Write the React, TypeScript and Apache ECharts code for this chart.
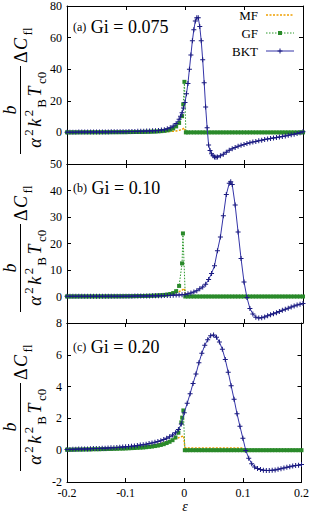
import React, { useEffect, useRef } from "react";
import * as echarts from "echarts";

// ---------- data ----------
const epsGrid = [
  -0.2, -0.195, -0.19, -0.185, -0.18, -0.175, -0.17, -0.165, -0.16, -0.155,
  -0.15, -0.145, -0.14, -0.135, -0.13, -0.125, -0.12, -0.115, -0.11, -0.105,
  -0.1, -0.095, -0.09, -0.085, -0.08, -0.075, -0.07, -0.065, -0.06, -0.055,
  -0.05, -0.045, -0.04, -0.035, -0.03, -0.025, -0.02, -0.015, -0.01, -0.005,
  0,
  0.005, 0.01, 0.015, 0.02, 0.025, 0.03, 0.035, 0.04, 0.045, 0.05,
  0.055, 0.06, 0.065, 0.07, 0.075, 0.08, 0.085, 0.09, 0.095, 0.1,
  0.105, 0.11, 0.115, 0.12, 0.125, 0.13, 0.135, 0.14, 0.145, 0.15,
  0.155, 0.16, 0.165, 0.17, 0.175, 0.18, 0.185, 0.19, 0.195, 0.2,
];

// (a) Gi = 0.075
const bktA = [
  0.15, 0.15, 0.16, 0.17, 0.18, 0.19, 0.2, 0.21, 0.22, 0.23, 0.25, 0.26, 0.28, 0.3, 0.32, 0.34, 0.36, 0.39, 0.42, 0.45, 0.48,
  0.52, 0.56, 0.6, 0.65, 0.7, 0.76, 0.82, 0.9, 1.0, 1.1, 1.25, 1.45, 1.75, 2.3, 3.0, 4.0, 5.6, 8.4, 12.5,
  19,
  31, 49, 65, 72.5, 67, 46, 16, -8, -13.5, -15.5, -15.6, -14.8, -13.8, -12.5, -11.3, -10.3, -9.5, -8.8, -8.2, -7.6,
  -7.1, -6.6, -6.1, -5.7, -5.3, -4.9, -4.5, -4.2, -3.8, -3.5, -3.2, -2.9, -2.55, -2.2, -1.85, -1.5, -1.1, -0.7, -0.2, 0.4,
];
const bktAExtra: [number, number][] = [
  [-0.0075, 10.2], [-0.0025, 15.5], [0.0025, 24.5], [0.0075, 40], [0.0125, 58], [0.0175, 70.5],
  [0.0225, 72.5], [0.0275, 58], [0.0325, 31.5], [0.0375, 3], [0.0425, -11.5], [0.0475, -14.8], [0.0525, -15.7],
];
const gfALeft = [
  0.05, 0.05, 0.05, 0.06, 0.06, 0.06, 0.07, 0.07, 0.08, 0.08, 0.09, 0.1, 0.1, 0.11, 0.12, 0.13, 0.14, 0.15, 0.16, 0.17, 0.18,
  0.2, 0.22, 0.24, 0.26, 0.29, 0.32, 0.36, 0.41, 0.47, 0.55, 0.65, 0.8, 1.0, 1.3, 1.75, 2.5, 3.8, 6.0, 10.3,
];
const gfASpike: [number, number][] = [[-0.003, 17.8], [-0.001, 32], [0.0015, 0]];
const gfARight = [
  0, 0, 0, 0, 0, 0, 0, 0, 0, 0, 0, 0, 0, 0, 0, 0, 0, 0, 0, 0,
  0, 0, 0, 0, 0, 0, 0, 0, 0, 0, 0, 0, 0, 0, 0, 0, 0, 0, 0, 0,
];
const mfALeft = [
  0.05, 0.05, 0.05, 0.06, 0.06, 0.06, 0.07, 0.07, 0.07, 0.08, 0.08, 0.09, 0.09, 0.1, 0.1, 0.11, 0.12, 0.12, 0.13, 0.14, 0.15,
  0.16, 0.17, 0.18, 0.19, 0.2, 0.22, 0.24, 0.26, 0.28, 0.31, 0.34, 0.38, 0.43, 0.5, 0.6, 0.75, 0.95, 1.3, 1.9,
];
const mfASpike: [number, number][] = [[-0.001, 2.8], [0.001, 0.3]];
const mfARight = [
  0.3, 0.3, 0.3, 0.3, 0.3, 0.3, 0.3, 0.3, 0.3, 0.3, 0.3, 0.3, 0.3, 0.3, 0.3, 0.3, 0.3, 0.3, 0.3, 0.3,
  0, 0, 0, 0, 0, 0, 0, 0, 0, 0, 0, 0, 0, 0, 0, 0, 0, 0, 0, 0,
];

// (b) Gi = 0.10
const bktB = [
  0.05, 0.05, 0.05, 0.05, 0.05, 0.05, 0.05, 0.05, 0.05, 0.06, 0.06, 0.06, 0.07, 0.07, 0.08, 0.08, 0.09, 0.1, 0.1, 0.11, 0.12,
  0.13, 0.14, 0.15, 0.16, 0.17, 0.19, 0.2, 0.22, 0.24, 0.26, 0.28, 0.31, 0.34, 0.38, 0.42, 0.47, 0.53, 0.6, 0.68,
  0.78,
  1.0, 1.3, 1.7, 2.2, 2.9, 3.6, 4.6, 6.4, 8.7, 11.6, 17.3, 22.5, 30.5, 38.5, 42.7, 42.3, 34.5, 24.3, 14.3, 5.5,
  -0.4, -4.5, -6.6, -7.8, -8.1, -8.0, -7.7, -7.3, -6.9, -6.5, -6.1, -5.7, -5.2, -4.8, -4.4, -4.0, -3.6, -3.2, -2.9, -2.6,
];
const bktBExtra: [number, number][] = [[0.0775, 43.3]];
const gfBLeft = [
  0.03, 0.03, 0.03, 0.03, 0.04, 0.04, 0.04, 0.04, 0.05, 0.05, 0.05, 0.06, 0.06, 0.06, 0.07, 0.07, 0.08, 0.08, 0.09, 0.1, 0.11,
  0.12, 0.13, 0.15, 0.16, 0.18, 0.2, 0.23, 0.26, 0.3, 0.35, 0.42, 0.5, 0.6, 0.75, 0.95, 1.3, 2.0, 4.0, 12.5,
];
const gfBSpike: [number, number][] = [[-0.0035, 23.8], [0.0005, 0]];
const gfBRight = [
  0, 0, 0, 0, 0, 0, 0, 0, 0, 0, 0, 0, 0, 0, 0, 0, 0, 0, 0, 0,
  0, 0, 0, 0, 0, 0, 0, 0, 0, 0, 0, 0, 0, 0, 0, 0, 0, 0, 0, 0,
];
const mfBLeft = [
  0.08, 0.08, 0.09, 0.09, 0.1, 0.1, 0.11, 0.11, 0.12, 0.12, 0.13, 0.14, 0.14, 0.15, 0.16, 0.17, 0.18, 0.19, 0.2, 0.22, 0.23,
  0.25, 0.27, 0.29, 0.31, 0.34, 0.37, 0.4, 0.44, 0.49, 0.55, 0.62, 0.7, 0.8, 0.92, 1.05, 1.25, 1.5, 1.85, 2.4,
];
const mfBSpike: [number, number][] = [[-0.001, 3.0], [0.001, 0.2]];
const mfBRight = [
  0.2, 0.2, 0.2, 0.2, 0.2, 0.2, 0.2, 0.2, 0.2, 0.2, 0.2, 0.2, 0.2, 0.2, 0.2, 0.2, 0.2, 0.2, 0.2, 0.2,
  0, 0, 0, 0, 0, 0, 0, 0, 0, 0, 0, 0, 0, 0, 0, 0, 0, 0, 0, 0,
];

// (c) Gi = 0.20
const bktC = [
  0.05, 0.05, 0.06, 0.06, 0.07, 0.07, 0.08, 0.08, 0.09, 0.1, 0.1, 0.11, 0.12, 0.13, 0.14, 0.15, 0.16, 0.17, 0.18, 0.2, 0.21,
  0.23, 0.25, 0.27, 0.29, 0.32, 0.35, 0.38, 0.42, 0.46, 0.5, 0.55, 0.6, 0.67, 0.75, 0.84, 0.95, 1.1, 1.3, 1.65,
  2.35,
  2.95, 3.55, 4.2, 4.8, 5.5, 6.1, 6.6, 6.95, 7.2, 7.25, 7.1, 6.8, 6.35, 5.7, 4.9, 4.05, 3.2, 2.3, 1.5, 0.75,
  -0.02, -0.5, -0.85, -1.05, -1.15, -1.22, -1.26, -1.27, -1.27, -1.26, -1.24, -1.2, -1.16, -1.12, -1.08, -1.04, -1.0, -0.97, -0.94, -0.9,
];
const bktCExtra: [number, number][] = [];
const gfCLeft = [
  0.03, 0.03, 0.03, 0.04, 0.04, 0.04, 0.05, 0.05, 0.05, 0.06, 0.06, 0.06, 0.07, 0.07, 0.08, 0.08, 0.09, 0.09, 0.1, 0.1, 0.11,
  0.12, 0.13, 0.14, 0.15, 0.16, 0.17, 0.19, 0.21, 0.23, 0.26, 0.29, 0.33, 0.38, 0.45, 0.53, 0.63, 0.8, 1.1, 1.75,
];
const gfCSpike: [number, number][] = [[-0.0035, 2.05], [-0.0015, 2.5], [0.001, 0]];
const gfCRight = [
  0, 0, 0, 0, 0, 0, 0, 0, 0, 0, 0, 0, 0, 0, 0, 0, 0, 0, 0, 0,
  0, 0, 0, 0, 0, 0, 0, 0, 0, 0, 0, 0, 0, 0, 0, 0, 0, 0, 0, 0,
];
const mfCLeft = [
  0.05, 0.05, 0.06, 0.06, 0.06, 0.07, 0.07, 0.07, 0.08, 0.08, 0.08, 0.09, 0.09, 0.1, 0.1, 0.11, 0.12, 0.12, 0.13, 0.14, 0.15,
  0.16, 0.17, 0.18, 0.2, 0.21, 0.23, 0.25, 0.27, 0.3, 0.33, 0.37, 0.42, 0.47, 0.52, 0.58, 0.65, 0.72, 0.78, 0.85,
];
const mfCSpike: [number, number][] = [[-0.001, 0.9], [0.001, 0.17]];
const mfCRight = [
  0.14, 0.14, 0.14, 0.14, 0.14, 0.14, 0.14, 0.14, 0.14, 0.14, 0.14, 0.14, 0.14, 0.14, 0.14, 0.14, 0.14, 0.14, 0.14, 0.14,
  0, 0, 0, 0, 0, 0, 0, 0, 0, 0, 0, 0, 0, 0, 0, 0, 0, 0, 0, 0,
];

const panelTags = ["(a)", "(b)", "(c)"];
const panelGi = ["0.075", "0.10", "0.20"];
const yMins = [-20, -10, -2];
const yMaxs = [80, 50, 8];
const ySteps = [20, 10, 2];
const xTicks = { min: -0.2, max: 0.2, step: 0.1 };
const seriesNames = ["MF", "GF", "BKT"];

// ---------- helpers ----------
const epsLeft = epsGrid.slice(0, 40);
const epsRight = epsGrid.slice(41);
const zip = (xs: number[], ys: number[]) => xs.map((x, i) => [x, ys[i]]);
const sortX = (pts: number[][]) => pts.slice().sort((p, q) => p[0] - q[0]);

const panelData = [
  {
    bkt: sortX([...zip(epsGrid, bktA), ...bktAExtra]),
    gf: [...zip(epsLeft, gfALeft), ...gfASpike, ...zip(epsRight, gfARight)],
    mf: [...zip(epsLeft, mfALeft), ...mfASpike, ...zip(epsRight, mfARight)],
  },
  {
    bkt: sortX([...zip(epsGrid, bktB), ...bktBExtra]),
    gf: [...zip(epsLeft, gfBLeft), ...gfBSpike, ...zip(epsRight, gfBRight)],
    mf: [...zip(epsLeft, mfBLeft), ...mfBSpike, ...zip(epsRight, mfBRight)],
  },
  {
    bkt: sortX([...zip(epsGrid, bktC), ...bktCExtra]),
    gf: [...zip(epsLeft, gfCLeft), ...gfCSpike, ...zip(epsRight, gfCRight)],
    mf: [...zip(epsLeft, mfCLeft), ...mfCSpike, ...zip(epsRight, mfCRight)],
  },
];

// ---------- style ----------
const FONT = "Liberation Serif";
const C_MF = "#f0a000";
const C_GF = "#2e9a2e";
const C_GF_MARK = "#2a8a2a";
const C_BKT = "#3434a8";
const C_BKT_MARK = "#1a1a80";
const PLUS = "path://M2,0H3V2H5V3H3V5H2V3H0V2H2Z";

const gridTops = [6, 164, 323];
const gridHeights = [158, 159, 159];

function buildOption() {
  const grid: any[] = [];
  const xAxis: any[] = [];
  const yAxis: any[] = [];
  const series: any[] = [];
  const graphic: any[] = [];

  const axisLine = { onZero: false, lineStyle: { color: "#000", width: 1 } };
  const axisTick = { inside: true, length: 4, lineStyle: { color: "#000", width: 1 } };

  for (let k = 0; k < 3; k++) {
    grid.push({ left: 67, right: 9, top: gridTops[k], height: gridHeights[k] });
    const xBase = {
      type: "value",
      gridIndex: k,
      min: xTicks.min,
      max: xTicks.max,
      interval: xTicks.step,
      axisLine,
      axisTick,
      splitLine: { show: false },
    };
    xAxis.push({
      ...xBase,
      position: "bottom",
      axisLabel: {
        show: k === 2,
        fontFamily: FONT,
        fontSize: 12,
        lineHeight: 12,
        color: "#000",
        margin: 5,
        formatter: (v: number) => {
          const r = Math.round(v * 10) / 10;
          return r === 0 ? "0" : String(r);
        },
      },
    });
    xAxis.push({ ...xBase, position: "top", axisLabel: { show: false } });

    const yBase = {
      type: "value",
      gridIndex: k,
      min: yMins[k],
      max: yMaxs[k],
      interval: ySteps[k],
      axisLine,
      axisTick,
      splitLine: { show: false },
    };
    yAxis.push({
      ...yBase,
      position: "left",
      axisLabel: {
        fontFamily: FONT,
        fontSize: 12,
        lineHeight: 12,
        color: "#000",
        margin: 5,
        formatter: (v: number) => (k < 2 && v === yMins[k] ? "" : String(v)),
      },
    });
    yAxis.push({ ...yBase, position: "right", axisLabel: { show: false } });

    const d = panelData[k];
    series.push({
      name: seriesNames[0],
      type: "line",
      xAxisIndex: 2 * k,
      yAxisIndex: 2 * k,
      data: d.mf,
      symbol: "none",
      lineStyle: { color: C_MF, width: 1.5, type: [2, 1.5] },
      z: 2,
    });
    series.push({
      name: seriesNames[1],
      type: "line",
      xAxisIndex: 2 * k,
      yAxisIndex: 2 * k,
      data: d.gf,
      symbol: "rect",
      symbolSize: 4,
      showAllSymbol: true,
      itemStyle: { color: C_GF_MARK },
      lineStyle: { color: C_GF, width: 1, type: [1.5, 1.5] },
      z: 3,
    });
    series.push({
      name: seriesNames[2],
      type: "line",
      xAxisIndex: 2 * k,
      yAxisIndex: 2 * k,
      data: d.bkt,
      symbol: PLUS,
      symbolSize: 5,
      showAllSymbol: true,
      itemStyle: { color: C_BKT_MARK },
      lineStyle: { color: C_BKT, width: 1 },
      z: 4,
    });

    // panel label
    const labelY = [27, 188, 347][k];
    graphic.push({
      type: "text",
      x: 73,
      y: labelY,
      style: {
        text: `{s|${panelTags[k]}}{g| Gi = ${panelGi[k]}}`,
        verticalAlign: "middle",
        textVerticalAlign: "middle",
        fill: "#000",
        rich: {
          s: { fontFamily: FONT, fontSize: 12, color: "#000" },
          g: { fontFamily: FONT, fontSize: 18, color: "#000" },
        },
      },
    });

    // y title (rotated fraction)
    const ital = { fontFamily: FONT, fontStyle: "italic", fontSize: 18, lineHeight: 26, verticalAlign: "middle", color: "#000", padding: [0, 1.5] };
    const rom = { fontFamily: FONT, fontSize: 18, lineHeight: 26, verticalAlign: "middle", color: "#000" };
    const sup = { fontFamily: FONT, fontSize: 13, lineHeight: 13, verticalAlign: "top", color: "#000", padding: [0, 1] };
    const sub = { fontFamily: FONT, fontSize: 13, lineHeight: 13, verticalAlign: "bottom", color: "#000", padding: [0, 1] };
    graphic.push({
      type: "group",
      x: 20.5,
      y: gridTops[k] + 104,
      rotation: Math.PI / 2,
      children: [
        {
          type: "text",
          x: 0,
          y: -2,
          style: {
            text: "b",
            font: `italic 18px "${FONT}"`,
            fill: "#000",
            align: "center",
            textAlign: "center",
            verticalAlign: "bottom",
            textVerticalAlign: "bottom",
          },
        },
        {
          type: "line",
          shape: { x1: -44, y1: 0, x2: 44, y2: 0 },
          style: { stroke: "#000", lineWidth: 1 },
        },
        {
          type: "text",
          x: 0,
          y: 1,
          style: {
            text: "{i|α}{p|2}{i|k}{p|2}{b|B}{i|T}{b|c0}",
            align: "center",
            textAlign: "center",
            verticalAlign: "top",
            textVerticalAlign: "top",
            rich: { i: ital, p: sup, b: sub },
          },
        },
        {
          type: "text",
          x: 47,
          y: 0,
          style: {
            text: "{r|Δ}{i|C}{b|fl}",
            align: "left",
            textAlign: "left",
            verticalAlign: "middle",
            textVerticalAlign: "middle",
            rich: { i: ital, r: rom, b: sub },
          },
        },
      ],
    });
  }

  // legend (drawn)
  const legY = [15, 33, 51];
  const legText = (i: number) => ({
    type: "text",
    x: 258,
    y: legY[i],
    style: {
      text: seriesNames[i],
      font: `13px "${FONT}"`,
      fill: "#000",
      align: "right",
      textAlign: "right",
      verticalAlign: "middle",
      textVerticalAlign: "middle",
    },
  });
  graphic.push(
    legText(0),
    legText(1),
    legText(2),
    { type: "line", shape: { x1: 266, y1: legY[0], x2: 294, y2: legY[0] }, style: { stroke: C_MF, lineWidth: 1.5, lineDash: [2, 1.5] } },
    { type: "line", shape: { x1: 266, y1: legY[1], x2: 294, y2: legY[1] }, style: { stroke: C_GF, lineWidth: 1, lineDash: [1.5, 1.5] } },
    { type: "rect", shape: { x: 278, y: legY[1] - 2, width: 4, height: 4 }, style: { fill: C_GF_MARK } },
    { type: "line", shape: { x1: 266, y1: legY[2], x2: 294, y2: legY[2] }, style: { stroke: C_BKT, lineWidth: 1 } },
    { type: "line", shape: { x1: 280, y1: legY[2] - 2.5, x2: 280, y2: legY[2] + 2.5 }, style: { stroke: C_BKT_MARK, lineWidth: 1 } },
    { type: "line", shape: { x1: 277.5, y1: legY[2], x2: 282.5, y2: legY[2] }, style: { stroke: C_BKT_MARK, lineWidth: 1 } }
  );

  // x-axis title
  graphic.push({
    type: "text",
    x: 185,
    y: 506,
    style: {
      text: "ε",
      font: `italic 14px "${FONT}"`,
      fill: "#000",
      align: "center",
      textAlign: "center",
      verticalAlign: "middle",
      textVerticalAlign: "middle",
    },
  });

  return {
    animation: false,
    backgroundColor: "#fff",
    textStyle: { fontFamily: FONT },
    grid,
    xAxis,
    yAxis,
    series,
    graphic,
  };
}

export default function App() {
  const ref = useRef<HTMLDivElement>(null);
  useEffect(() => {
    document.body.style.margin = "0";
    const chart = echarts.init(ref.current!, undefined, { renderer: "svg" });
    chart.setOption(buildOption() as any);
    return () => chart.dispose();
  }, []);
  return (
    <div
      ref={ref}
      style={{ position: "fixed", left: 0, top: 0, width: 312, height: 514 }}
    />
  );
}
